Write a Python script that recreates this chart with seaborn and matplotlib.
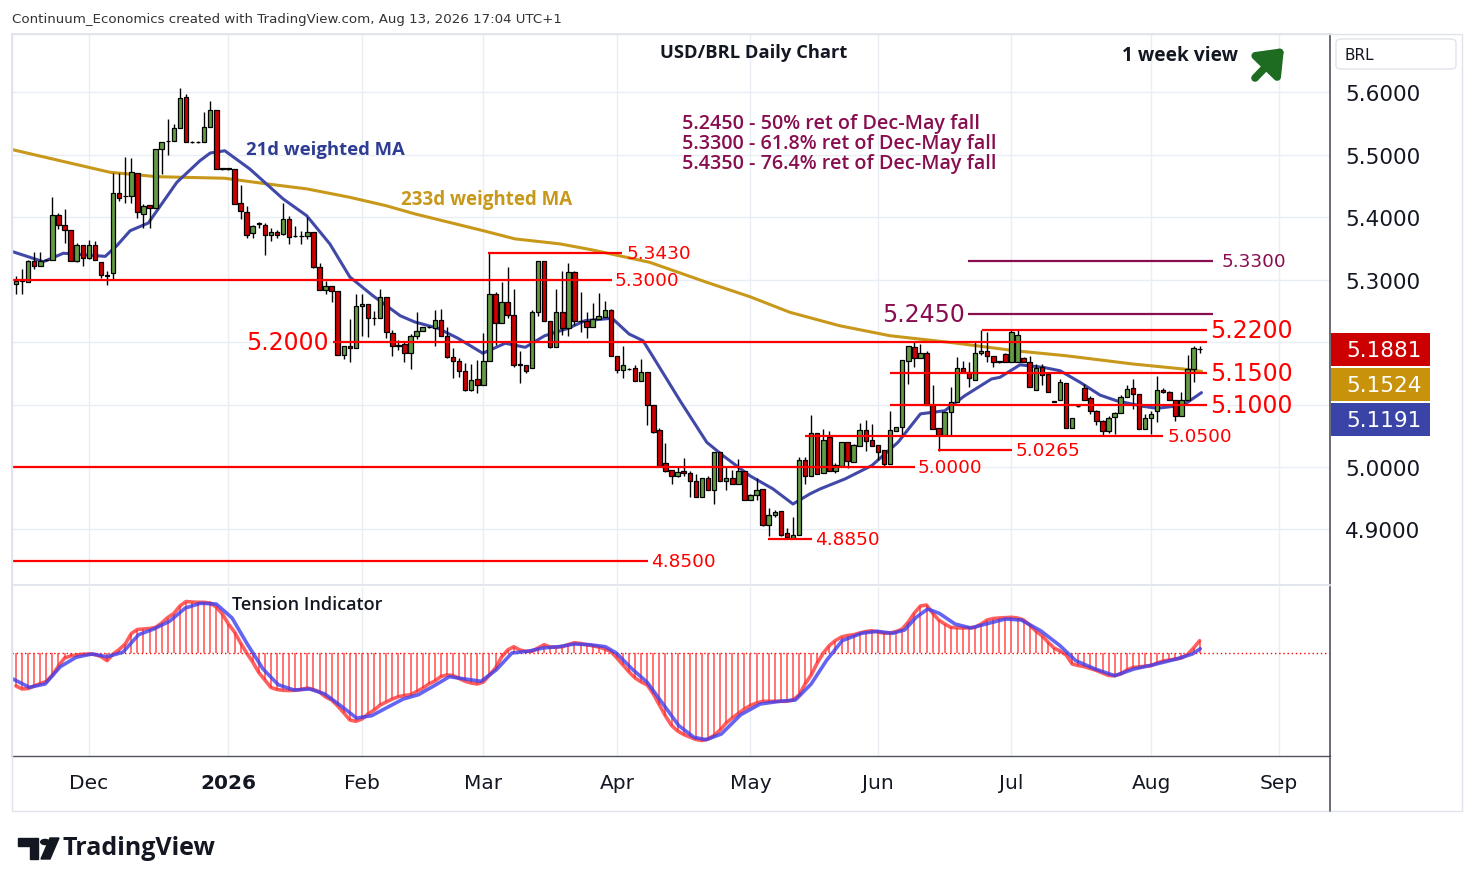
import numpy as np
import pandas as pd
import matplotlib
matplotlib.use("Agg")
import matplotlib.pyplot as plt
import seaborn as sns
from matplotlib.patches import Rectangle, FancyBboxPatch, Polygon, Circle

# ---------------- DATA ----------------
dates = pd.bdate_range("2025-11-13", "2026-08-13")  # 196 daily bars

open_ = [5.293, 5.298, 5.296, 5.329, 5.321, 5.331, 5.332, 5.403, 5.388, 5.380,
         5.330, 5.356, 5.335, 5.356, 5.3275, 5.307, 5.310, 5.438, 5.433, 5.433,
         5.4705, 5.405, 5.419, 5.4144, 5.509, 5.521, 5.521, 5.542, 5.5915, 5.520,
         5.520, 5.5206, 5.5435, 5.571, 5.477, 5.477, 5.477, 5.422, 5.4075, 5.374,
         5.389, 5.387, 5.371, 5.376, 5.3725, 5.397, 5.369, 5.369, 5.369, 5.3755,
         5.3195, 5.283, 5.289, 5.281, 5.180, 5.193, 5.190, 5.257, 5.261, 5.238,
         5.238, 5.2715, 5.215, 5.194, 5.197, 5.182, 5.210, 5.218, 5.2235, 5.222,
         5.235, 5.209, 5.1755, 5.170, 5.153, 5.124, 5.141, 5.1315, 5.170, 5.277,
         5.230, 5.2635, 5.243, 5.1635, 5.1632, 5.158, 5.2475, 5.329, 5.233, 5.1925,
         5.2475, 5.222, 5.3115, 5.233, 5.233, 5.2245, 5.2368, 5.2395, 5.251, 5.177,
         5.1552, 5.1568, 5.158, 5.138, 5.1515, 5.0995, 5.0598, 5.006, 4.995, 4.985,
         4.994, 4.990, 4.978, 4.9525, 4.982, 4.9637, 5.0245, 4.978, 4.982, 4.972,
         4.994, 4.9477, 4.9557, 4.965, 4.9072, 4.9232, 4.929, 4.894, 4.886, 4.891,
         5.0115, 4.985, 5.054, 4.990, 5.0475, 4.994, 5.002, 5.0395, 5.0085, 5.034,
         5.0592, 5.043, 5.035, 5.0267, 5.0048, 5.058, 5.0635, 5.170, 5.1915, 5.175,
         5.1824, 5.0985, 5.0624, 5.0512, 5.0875, 5.1035, 5.158, 5.1515, 5.140, 5.182,
         5.185, 5.178, 5.1685, 5.181, 5.1685, 5.1685, 5.174, 5.1685, 5.124, 5.1595,
         5.149, 5.1045, 5.108, 5.134, 5.0624, 5.097, 5.1259, 5.110, 5.089, 5.073,
         5.057, 5.0795, 5.086, 5.1115, 5.126, 5.117, 5.061, 5.078, 5.089, 5.123,
         5.1195, 5.107, 5.082, 5.107, 5.157, 5.1885]

high = [5.306, 5.317, 5.331, 5.344, 5.344, 5.333, 5.432, 5.406, 5.413, 5.380,
        5.358, 5.356, 5.363, 5.361, 5.3275, 5.314, 5.470, 5.470, 5.4955, 5.494,
        5.4705, 5.421, 5.420, 5.509, 5.5195, 5.557, 5.549, 5.606, 5.597, 5.521,
        5.521, 5.5675, 5.585, 5.571, 5.478, 5.478, 5.477, 5.452, 5.417, 5.388,
        5.392, 5.390, 5.382, 5.380, 5.422, 5.402, 5.385, 5.377, 5.400, 5.3755,
        5.326, 5.298, 5.290, 5.281, 5.193, 5.237, 5.277, 5.277, 5.261, 5.249,
        5.285, 5.2715, 5.220, 5.204, 5.200, 5.213, 5.2486, 5.224, 5.225, 5.251,
        5.253, 5.2245, 5.190, 5.175, 5.166, 5.165, 5.172, 5.214, 5.343, 5.280,
        5.2955, 5.3195, 5.285, 5.186, 5.164, 5.251, 5.329, 5.329, 5.233, 5.285,
        5.313, 5.326, 5.314, 5.2795, 5.2475, 5.2624, 5.278, 5.266, 5.253, 5.177,
        5.193, 5.159, 5.163, 5.173, 5.1525, 5.100, 5.062, 5.039, 4.995, 5.000,
        5.0144, 4.994, 4.989, 4.982, 4.986, 5.0245, 5.0245, 4.9995, 4.995, 5.0128,
        4.994, 4.956, 4.982, 4.965, 4.9344, 4.931, 4.929, 4.903, 4.9205, 5.0165,
        5.0165, 5.083, 5.054, 5.0608, 5.058, 5.006, 5.040, 5.0395, 5.037, 5.070,
        5.0757, 5.0688, 5.035, 5.0267, 5.090, 5.064, 5.171, 5.193, 5.2005, 5.197,
        5.185, 5.131, 5.0624, 5.0875, 5.1275, 5.1765, 5.169, 5.168, 5.200, 5.220,
        5.2166, 5.178, 5.170, 5.182, 5.220, 5.220, 5.176, 5.177, 5.165, 5.165,
        5.152, 5.105, 5.141, 5.134, 5.078, 5.098, 5.1328, 5.114, 5.091, 5.076,
        5.081, 5.088, 5.115, 5.131, 5.141, 5.117, 5.085, 5.089, 5.146, 5.127,
        5.122, 5.107, 5.1195, 5.179, 5.194, 5.193]

low = [5.277, 5.277, 5.296, 5.317, 5.321, 5.330, 5.332, 5.381, 5.359, 5.330,
       5.328, 5.321, 5.333, 5.332, 5.303, 5.291, 5.299, 5.425, 5.422, 5.422,
       5.398, 5.382, 5.382, 5.4144, 5.469, 5.499, 5.521, 5.542, 5.5206, 5.519,
       5.519, 5.5206, 5.5435, 5.477, 5.476, 5.476, 5.421, 5.397, 5.367, 5.367,
       5.383, 5.340, 5.362, 5.367, 5.371, 5.357, 5.368, 5.357, 5.365, 5.318,
       5.284, 5.277, 5.2635, 5.180, 5.173, 5.1675, 5.190, 5.210, 5.2075, 5.227,
       5.238, 5.206, 5.177, 5.187, 5.1675, 5.157, 5.2048, 5.218, 5.222, 5.194,
       5.209, 5.174, 5.142, 5.1435, 5.121, 5.122, 5.1184, 5.1315, 5.170, 5.195,
       5.230, 5.238, 5.1595, 5.1344, 5.150, 5.158, 5.242, 5.233, 5.190, 5.1925,
       5.212, 5.210, 5.227, 5.2166, 5.206, 5.2245, 5.2368, 5.2395, 5.177, 5.150,
       5.142, 5.155, 5.138, 5.138, 5.0678, 5.055, 5.002, 4.992, 4.972, 4.984,
       4.986, 4.9525, 4.9525, 4.9525, 4.9637, 4.940, 4.978, 4.9632, 4.972, 4.972,
       4.9477, 4.9477, 4.9477, 4.906, 4.890, 4.920, 4.890, 4.8875, 4.885, 4.891,
       4.972, 4.985, 4.989, 4.990, 4.994, 4.990, 5.002, 4.999, 5.0085, 5.034,
       5.026, 5.034, 5.012, 5.002, 5.0048, 5.058, 5.052, 5.133, 5.160, 5.175,
       5.0985, 5.061, 5.026, 5.0512, 5.0512, 5.1035, 5.150, 5.1275, 5.140, 5.180,
       5.1675, 5.160, 5.167, 5.168, 5.1685, 5.1685, 5.1685, 5.1275, 5.124, 5.131,
       5.1195, 5.104, 5.108, 5.0624, 5.0624, 5.096, 5.108, 5.085, 5.067, 5.052,
       5.054, 5.053, 5.086, 5.1115, 5.093, 5.061, 5.061, 5.053, 5.0715, 5.119,
       5.107, 5.074, 5.082, 5.107, 5.1365, 5.182]

close = [5.298, 5.298, 5.329, 5.321, 5.330, 5.332, 5.403, 5.388, 5.380, 5.330,
         5.356, 5.335, 5.356, 5.332, 5.307, 5.306, 5.438, 5.430, 5.433, 5.4715,
         5.4075, 5.418, 5.414, 5.509, 5.5195, 5.521, 5.542, 5.590, 5.5206, 5.520,
         5.520, 5.5435, 5.571, 5.477, 5.477, 5.477, 5.421, 5.410, 5.371, 5.386,
         5.389, 5.371, 5.376, 5.372, 5.397, 5.3675, 5.369, 5.369, 5.3755, 5.3195,
         5.284, 5.289, 5.281, 5.180, 5.193, 5.190, 5.257, 5.261, 5.238, 5.238,
         5.2715, 5.2166, 5.194, 5.194, 5.182, 5.210, 5.218, 5.2235, 5.2235, 5.235,
         5.209, 5.1755, 5.170, 5.153, 5.124, 5.1395, 5.1315, 5.170, 5.277, 5.230,
         5.2635, 5.243, 5.1635, 5.1635, 5.154, 5.2475, 5.329, 5.233, 5.1925, 5.2475,
         5.222, 5.3115, 5.233, 5.233, 5.2245, 5.2368, 5.241, 5.251, 5.177, 5.1552,
         5.1632, 5.1568, 5.138, 5.1515, 5.0995, 5.0565, 5.002, 4.994, 4.985, 4.9915,
         4.990, 4.978, 4.9525, 4.982, 4.9637, 5.0245, 4.978, 4.982, 4.972, 4.994,
         4.9477, 4.955, 4.9637, 4.9072, 4.9232, 4.9275, 4.8915, 4.8875, 4.891, 5.0115,
         4.985, 5.054, 4.989, 5.043, 4.994, 5.0037, 5.0395, 5.0091, 5.035, 5.0592,
         5.042, 5.034, 5.0245, 5.0048, 5.0592, 5.0635, 5.171, 5.193, 5.174, 5.1824,
         5.0985, 5.061, 5.0512, 5.0875, 5.1035, 5.158, 5.1515, 5.142, 5.1824, 5.185,
         5.177, 5.1685, 5.1685, 5.1685, 5.2155, 5.2117, 5.1685, 5.1275, 5.158, 5.147,
         5.1195, 5.1045, 5.1355, 5.0624, 5.078, 5.097, 5.108, 5.089, 5.073, 5.057,
         5.078, 5.086, 5.1115, 5.125, 5.117, 5.061, 5.078, 5.085, 5.123, 5.1195,
         5.107, 5.082, 5.107, 5.157, 5.190, 5.1881]

# 21d and 233d weighted moving averages (at knots)
wma21_idx = [-0.7, 4.5, 7.8, 14.7, 16.6, 18.8, 21.8, 26.5, 30.3, 32, 34.4, 38.5, 44, 47.9,
             51.7, 55, 58.8, 63.3, 65.7, 69.5, 72.8, 76.9, 80.6, 83.9, 87.1, 91, 93.7,
             98.2, 101, 103.3, 105, 109.4, 113.8, 116.5, 120.9, 124.7, 128, 130.8, 132.5,
             136.6, 141, 145.3, 149, 153, 156.3, 160.7, 162.1, 165.4, 169.2, 172, 175.3,
             178.6, 181.3, 185.7, 188, 190.7, 193, 195.3]
wma21_val = [5.345, 5.3285, 5.342, 5.337, 5.354, 5.378, 5.3904, 5.4555, 5.49, 5.5024, 5.506,
             5.477, 5.429, 5.402, 5.357, 5.304, 5.274, 5.242, 5.232, 5.222, 5.206, 5.182,
             5.198, 5.1915, 5.21, 5.222, 5.234, 5.238, 5.2128, 5.202, 5.1755, 5.106, 5.0395,
             5.018, 4.986, 4.965, 4.9408, 4.957, 4.965, 4.981, 5.0024, 5.0395, 5.085, 5.09,
             5.114, 5.1408, 5.1435, 5.1635, 5.1595, 5.154, 5.1355, 5.115, 5.106, 5.097,
             5.094, 5.097, 5.1035, 5.119]

wma233_idx = [-0.7, 15.5, 23.2, 34.4, 41.3, 47.9, 55, 61, 65.7, 77, 82.2, 89.6, 94.6,
              104.4, 113.8, 120.9, 127.5, 135.7, 144, 154.7, 164.6, 173, 184, 192.3, 195.3]
wma233_val = [5.508, 5.4715, 5.4645, 5.462, 5.453, 5.445, 5.4315, 5.418, 5.405, 5.378,
              5.365, 5.357, 5.348, 5.3275, 5.2955, 5.2725, 5.2475, 5.226, 5.21, 5.1984,
              5.186, 5.178, 5.1648, 5.1568, 5.153]

# Tension indicator: histogram / red line (per bar) and blue signal line (knots)
tension_red = [-33, -36, -35.5, -33, -30.5, -28.5, -22, -13, -5, -3,
               -2, -1.2, -1, -1.5, -3.5, -7.7, -1, 3.5, 9, 19.5,
               23.5, 24, 24.5, 25.7, 30, 35.5, 39.5, 47, 51.5, 51,
               50.7, 50.7, 50, 46, 39, 29, 21, 10, 0, -9,
               -19.5, -27, -34.5, -36.5, -37.3, -37.5, -37.3, -36.5, -35, -36.5,
               -39, -44, -47, -53, -59.8, -67, -68.3, -66, -61, -57,
               -52, -49, -46, -43.7, -42.5, -41.7, -38.5, -35.3, -31, -28,
               -23.5, -22, -22.5, -25.5, -28.3, -30, -31, -29, -22, -15,
               -4, 3, 6.3, 3, 1.7, 1.7, 5, 8.3, 6, 5.9,
               6.3, 8.5, 10.3, 9.5, 8.3, 7, 6, 4, 1.5, -5,
               -12, -19, -25, -29, -32, -41, -52, -63, -72.5, -78,
               -81.5, -84, -86.5, -87.5, -86, -82.5, -77, -70, -65, -60.5,
               -56, -52.5, -50, -48.3, -48.3, -48.3, -48.3, -48.3, -47, -42,
               -31, -22, -10, 0, 7.5, 12.5, 16, 17.5, 18.3, 20,
               21.5, 22.3, 21, 19.8, 20, 21.5, 24, 31, 40, 47,
               48, 40, 33, 29, 25.7, 25.2, 25, 25.2, 25.7, 29,
               33, 34.5, 35, 35.3, 35.7, 35, 33, 28, 22, 17.5,
               11, 5, 2, -2, -11, -12.5, -13.7, -15.5, -17.5, -20,
               -22.5, -22.7, -21, -17, -14.5, -14, -13.2, -12.7, -10, -8,
               -7, -6, -5, -1.5, 5, 12.3]
tension_blue_idx = [-0.5, 2.2, 4.8, 7.3, 9.9, 12.5, 15, 17.6, 20.2, 22.7, 25.3, 27.9, 30.4, 33,
                    35.6, 38.1, 40.7, 43.2, 45.8, 48.4, 50.9, 53.5, 56.1, 58.6, 61.2, 63.8,
                    66.3, 68.9, 71.4, 74, 76.6, 79.1, 81.7, 84.3, 86.8, 89.4, 92, 94.5, 97.1,
                    98.9, 101.5, 104, 106.6, 109.2, 111.7, 113.7, 116.2, 119.4, 122.6, 125.8,
                    128.4, 131, 133.5, 136.1, 139.3, 141.9, 144.4, 146.4, 148.3, 150.2, 152.1,
                    154.7, 157.3, 159.8, 163, 165.6, 168.8, 172, 174.6, 177.8, 181, 184.2,
                    187.4, 191.2, 193.8, 195.1]
tension_blue_val = [-26, -34.3, -31, -13.7, -4.3, -1, -3.7, 0.7, 18.3, 24, 31.7, 45, 49.7, 49,
                    35, 9, -16, -31.7, -37, -36, -41, -52.7, -65, -62.7, -54.3, -46, -41.7,
                    -32.7, -23.7, -26, -28.3, -17, 0, 1.7, 5, 6.3, 9, 8.3, 6.3, 0, -16, -29.3,
                    -51, -72.7, -84.3, -86.7, -81, -61.7, -51, -48.3, -47, -31, -7.7, 12.3,
                    19.7, 21.7, 19.7, 23, 35.7, 44, 39.7, 29, 25, 29, 34, 33, 22.3, 7.3, -7.7,
                    -16, -22.7, -16, -11.7, -6, -1, 4.3]

price_ticks = [4.9, 5.0, 5.1, 5.2, 5.3, 5.4, 5.5, 5.6]
price_tick_shown = [True, True, False, False, True, True, True, True]  # 5.1/5.2 hidden by tags
month_labels = ["Dec", "2026", "Feb", "Mar", "Apr", "May", "Jun", "Jul", "Aug", "Sep"]
red_levels = [5.3430, 5.3000, 5.2000, 5.0000, 4.8500, 4.8850, 5.0265, 5.0500,
              5.1000, 5.1500, 5.2200]
purple_levels = [5.2450, 5.3300]
retracement_notes = ["5.2450 - 50% ret of Dec-May fall",
                     "5.3300 - 61.8% ret of Dec-May fall",
                     "5.4350 - 76.4% ret of Dec-May fall"]
last_tags = [("5.1881", "#cc0000"), ("5.1524", "#c8930a"), ("5.1191", "#3a44a6")]

# ---------------- LAYOUT HELPERS ----------------
W, H = 1474, 887
def fx(x): return x / W
def fy(y): return 1 - y / H
def px2i(x): return (x - 16) / 6.07

sns.set_theme(style="white")
plt.rcParams['font.family'] = ['DejaVu Sans']

fig = plt.figure(figsize=(W / 100, H / 100), dpi=100)
fig.patch.set_facecolor("white")
ax = fig.add_axes([fx(12), fy(586), fx(1330) - fx(12), fy(35) - fy(586)])
ax2 = fig.add_axes([fx(12), fy(757), fx(1330) - fx(12), fy(588) - fy(757)], sharex=ax)

n = len(close)
idx = np.arange(n)
o = np.array(open_); c = np.array(close); hi = np.array(high); lo = np.array(low)
month_idx = [int(np.argmax((dates.year == d.year) & (dates.month == d.month)))
             for d in pd.date_range("2025-12-01", "2026-08-01", freq="MS")]
month_idx.append(n + int(np.busday_count("2026-08-14", "2026-09-01")))

GRID = "#e9eef5"
ax.set_xlim(px2i(12), px2i(1330))
ax.set_ylim(5.6 - (586 - 93) / 625, 5.6 - (35 - 93) / 625)
ax.set_yticks(price_ticks)
ax.set_yticklabels([f"{p:.4f}" if s else "" for p, s in zip(price_ticks, price_tick_shown)])
ax.set_xticks(month_idx)
ax.grid(True, color=GRID, lw=1)
ax.yaxis.tick_right()
ax.tick_params(axis="y", length=0, pad=11, labelsize=15.5, labelcolor="#131722")
ax.tick_params(axis="x", length=0, labelbottom=False)

# moving averages
sns.lineplot(x=wma233_idx, y=wma233_val, ax=ax, color="#c8981a", lw=2.2, zorder=2, sort=False)
sns.lineplot(x=wma21_idx, y=wma21_val, ax=ax, color="#4149a8", lw=2.2, zorder=2, sort=False)

# candles
cols = np.where(c > o, "#639c45", np.where(c < o, "#cc0000", "black"))
ax.vlines(idx, lo, hi, color="black", lw=1, zorder=3)
body_h = np.maximum(np.abs(c - o), 0.0006)
ax.bar(idx, body_h, bottom=np.minimum(o, c), width=0.74, color=cols,
       edgecolor="black", linewidth=0.9, zorder=4)

# level lines
red_extents = {5.3430: (488, 622), 5.3000: (12, 612), 5.2000: (333, 1207),
               5.0000: (12, 915), 4.8500: (12, 648), 4.8850: (768, 812),
               5.0265: (938, 1012), 5.0500: (805, 1163), 5.1000: (890, 1207),
               5.1500: (890, 1207), 5.2200: (982, 1207)}
for lv in red_levels:
    x0, x1 = red_extents[lv]
    ax.hlines(lv, px2i(x0), px2i(x1), color="#ff0000", lw=1.6, zorder=5)
for lv in purple_levels:
    ax.hlines(lv, px2i(968), px2i(1213), color="#880e4f", lw=1.6, zorder=5)

small = dict(color="#ff0000", fontsize=13.3, va="center", zorder=6)
big = dict(color="#ff0000", fontsize=17, va="center", zorder=6)
ax.text(px2i(627), 5.3430, "5.3430", **small)
ax.text(px2i(615), 5.3000, "5.3000", **small)
ax.text(px2i(918), 5.0000, "5.0000", **small)
ax.text(px2i(651), 4.8500, "4.8500", **small)
ax.text(px2i(815), 4.8850, "4.8850", **small)
ax.text(px2i(1016), 5.0265, "5.0265", **small)
ax.text(px2i(1168), 5.0500, "5.0500", **small)
ax.text(px2i(329), 5.2000, "5.2000", ha="right", **big)
ax.text(px2i(1210), 5.2200, "5.2200", **big)
ax.text(px2i(1210), 5.1500, "5.1500", **big)
ax.text(px2i(1210), 5.1000, "5.1000", **big)
ax.text(px2i(965), 5.2450, "5.2450", ha="right", color="#880e4f", fontsize=17, va="center")
ax.text(px2i(1222), 5.3300, "5.3300", color="#880e4f", fontsize=13.3, va="center")

for s in ["top", "left", "bottom"]:
    ax.spines[s].set_color("#e0e3eb")
ax.spines["right"].set_color("#50535e")
ax.spines["right"].set_linewidth(1.2)

# ---------------- TENSION INDICATOR ----------------
ax2.set_ylim(654 - 757, 654 - 588)
ax2.set_xticks(month_idx)
ax2.set_xticklabels(month_labels)
ax2.grid(True, axis="x", color=GRID, lw=1)
ax2.set_yticks([])
ax2.tick_params(axis="x", length=0, pad=12, labelsize=14.5, labelcolor="#131722")
ax2.get_xticklabels()[1].set_fontweight("bold")
ax2.axhline(0, color="#ff0000", lw=1, ls=(0, (1, 2)), zorder=2)
ax2.vlines(idx, 0, tension_red, color="#ff3030", lw=1.1, alpha=0.85, zorder=3)
sns.lineplot(x=idx, y=tension_red, ax=ax2, color="#ff2a2a", lw=2.6, alpha=0.75, zorder=4)
sns.lineplot(x=tension_blue_idx, y=tension_blue_val, ax=ax2, color="#3f3ff0", lw=2.6,
             alpha=0.8, zorder=5, sort=False)
ax2.spines["top"].set_visible(False)
ax2.spines["left"].set_color("#e0e3eb")
ax2.spines["right"].set_color("#50535e")
ax2.spines["right"].set_linewidth(1.2)
ax2.spines["bottom"].set_color("#50535e")
ax2.spines["bottom"].set_linewidth(1.0)
ax2.set_xlabel(""); ax2.set_ylabel(""); ax.set_xlabel(""); ax.set_ylabel("")

# ---------------- FIGURE DECORATIONS ----------------
def ftext(x, y, s, **kw):
    fig.text(fx(x), fy(y), s, **kw)

fig.add_artist(Rectangle((fx(12), fy(812)), fx(1462) - fx(12), fy(35) - fy(812),
                         fill=False, edgecolor="#e0e3eb", lw=1, transform=fig.transFigure))
fig.add_artist(plt.Line2D([fx(1330), fx(1330)], [fy(757), fy(812)], color="#50535e",
                          lw=1.2, transform=fig.transFigure))

ftext(12, 19, "Continuum_Economics created with TradingView.com, Aug 13, 2026 17:04 UTC+1",
      fontsize=9.6, color="#333333", va="center")
ftext(754, 53, "USD/BRL Daily Chart", fontsize=13.2, fontweight="bold", ha="center",
      va="center", color="#131722", family=["Open Sans", "DejaVu Sans"])
ftext(1122, 56, "1 week view", fontsize=13.8, fontweight="bold", va="center",
      color="#131722", family=["Open Sans", "DejaVu Sans"])
ax.annotate("", xy=(fx(1284), fy(49)), xytext=(fx(1255), fy(79)),
            xycoords="figure fraction", textcoords="figure fraction",
            arrowprops=dict(arrowstyle="-|>,head_length=0.7,head_width=0.55",
                            lw=5.5, color="#1e6b22", mutation_scale=20,
                            shrinkA=0, shrinkB=0), annotation_clip=False)
ftext(246, 150, "21d weighted MA", fontsize=13.3, fontweight="bold", va="center",
      color="#2e3d91", family=["Open Sans", "DejaVu Sans"])
ftext(401, 200, "233d weighted MA", fontsize=13.5, fontweight="bold", va="center",
      color="#c8981a", family=["Open Sans", "DejaVu Sans"])
for k, s in enumerate(retracement_notes):
    ftext(682, 124 + 20 * k, s, fontsize=14.2, va="center", color="#880e4f",
          family=["Open Sans", "DejaVu Sans"], fontweight="semibold")
ftext(232, 605, "Tension Indicator", fontsize=13, va="center", color="#131722",
      family=["Open Sans", "DejaVu Sans"], fontweight="semibold")

# BRL box
fig.add_artist(FancyBboxPatch((fx(1336), fy(70)), fx(1456) - fx(1336), fy(40) - fy(70),
                              boxstyle="round,pad=0,rounding_size=0.004", fill=False,
                              edgecolor="#e0e3eb", lw=1, transform=fig.transFigure))
ftext(1345, 55, "BRL", fontsize=11, va="center", color="#131722")

# last-value tags
for k, (s, col) in enumerate(last_tags):
    y0 = 334 + 35 * k
    fig.add_artist(Rectangle((fx(1331), fy(y0 + 33)), fx(1430) - fx(1331), fy(y0) - fy(y0 + 33),
                             facecolor=col, edgecolor="none", transform=fig.transFigure))
    ftext(1346, y0 + 17, s, fontsize=15.5, color="white", va="center")

# TradingView logo
fig.add_artist(Polygon([(fx(18), fy(839)), (fx(38), fy(839)), (fx(38), fy(860)),
                        (fx(30), fy(860)), (fx(30), fy(847)), (fx(18), fy(847))],
                       closed=True, color="#131722", transform=fig.transFigure))
fig.add_artist(Circle((fx(45), fy(843)), 0.0029, color="#131722", transform=fig.transFigure))
fig.add_artist(Polygon([(fx(50), fy(839)), (fx(59), fy(839)), (fx(50), fy(860)),
                        (fx(41), fy(860))], closed=True, color="#131722",
                       transform=fig.transFigure))
ftext(62, 849, "TradingView", fontsize=18, fontweight="bold", va="center",
      color="#131722", family=["Open Sans", "DejaVu Sans"])

fig.savefig("out.png", dpi=100, facecolor="white")
